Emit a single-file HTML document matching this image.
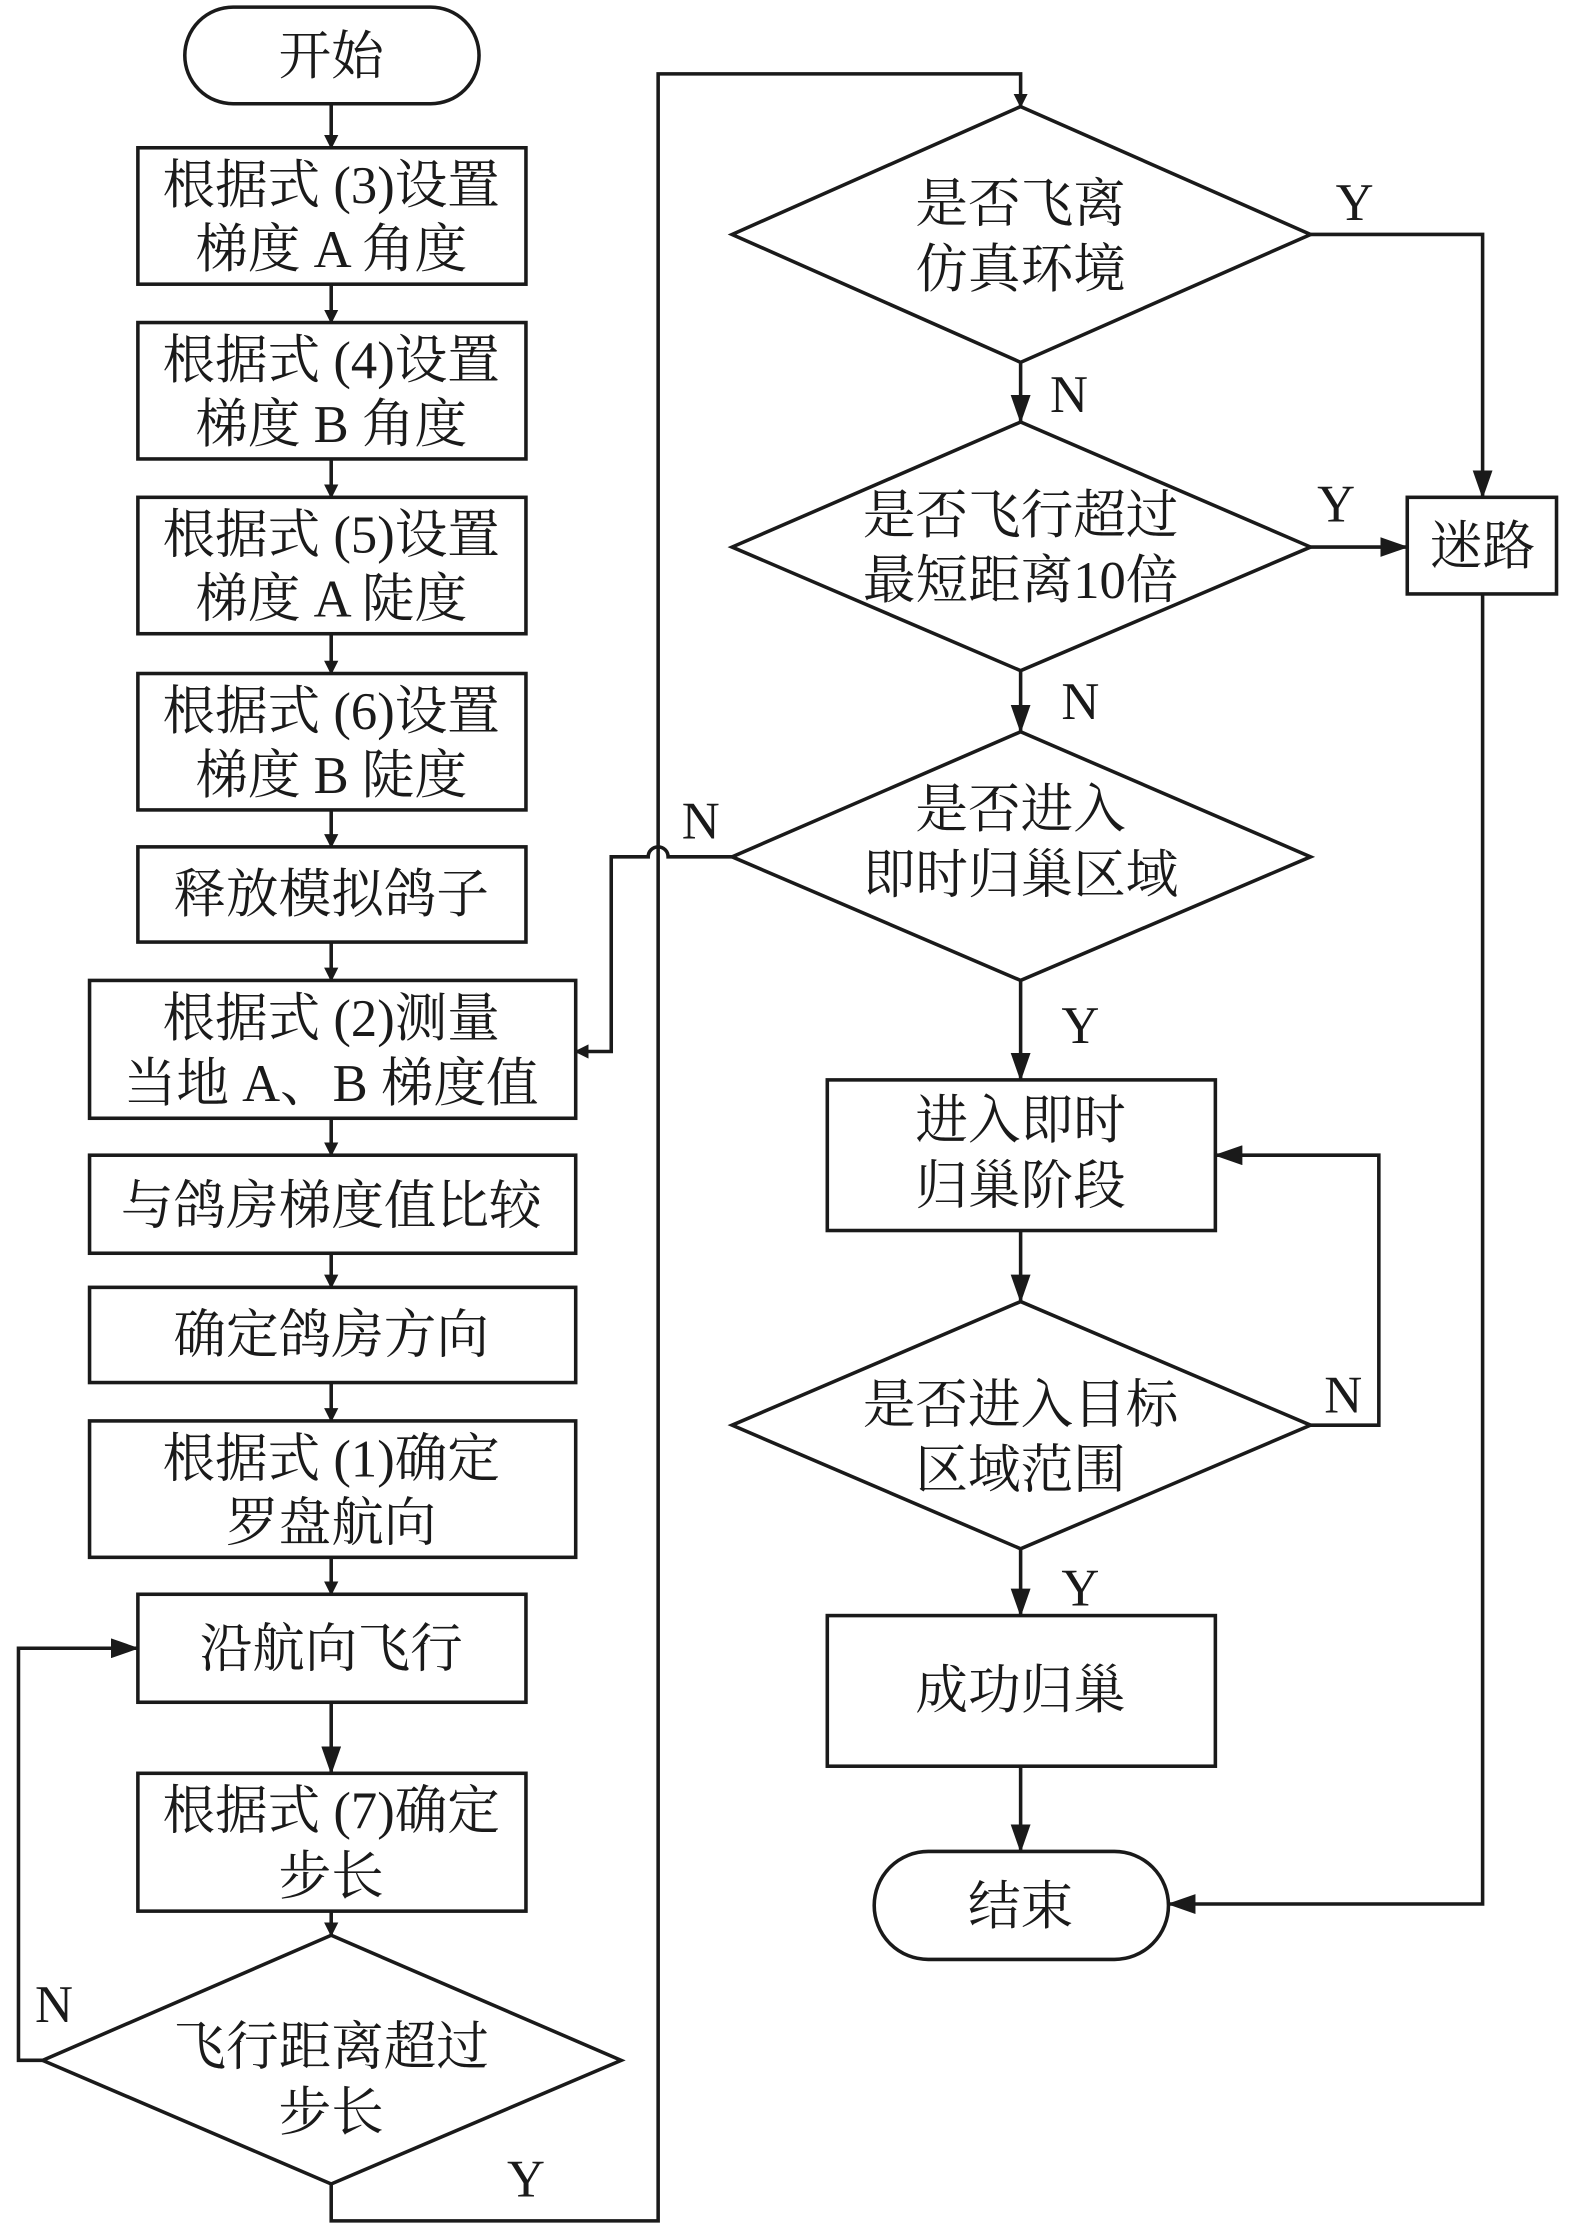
<!DOCTYPE html>
<html><head><meta charset="utf-8"><style>
html,body{margin:0;padding:0;background:#fff}
svg{display:block}
text{font-family:"Liberation Serif","Noto Serif CJK SC",serif;font-size:37px;fill:#1a1a1a;text-anchor:middle}
</style></head><body>
<svg width="1575" height="2228" viewBox="0 0 1108 1568" preserveAspectRatio="none" xmlns="http://www.w3.org/2000/svg">
<defs><marker id="a" markerWidth="10" markerHeight="10" refX="9" refY="5" orient="auto" markerUnits="userSpaceOnUse"><path d="M0,0 L10,5 L0,10 z" fill="#1a1a1a"/></marker>
<marker id="b" markerWidth="20" markerHeight="14" refX="19" refY="7" orient="auto" markerUnits="userSpaceOnUse"><path d="M0,0 L20,7 L0,14 z" fill="#1a1a1a"/></marker></defs>
<g fill="none" stroke="#1a1a1a" stroke-width="2.5">
<rect x="130" y="5" width="207" height="68" rx="34"/>
<rect x="97" y="104" width="273" height="96"/>
<rect x="97" y="227" width="273" height="96"/>
<rect x="97" y="350" width="273" height="96"/>
<rect x="97" y="474" width="273" height="96"/>
<rect x="97" y="596" width="273" height="67"/>
<rect x="63" y="690" width="342" height="97"/>
<rect x="63" y="813" width="342" height="69"/>
<rect x="63" y="906" width="342" height="67"/>
<rect x="63" y="1000" width="342" height="96"/>
<rect x="97" y="1122" width="273" height="76"/>
<rect x="97" y="1248" width="273" height="97"/>
<polygon points="233,1362 437,1450 233,1537 30,1450"/>
<polygon points="718,75 922,165 718,255 515,165"/>
<polygon points="718,297 922,385 718,472 515,385"/>
<polygon points="718,515 922,603 718,690 515,603"/>
<polygon points="718,916 922,1003 718,1090 515,1003"/>
<rect x="990" y="350" width="105" height="68"/>
<rect x="582" y="760" width="273" height="106"/>
<rect x="582" y="1137" width="273" height="106"/>
<rect x="615" y="1303" width="207" height="76" rx="38"/>
<line x1="233" y1="73" x2="233" y2="104" marker-end="url(#a)"/>
<line x1="233" y1="200" x2="233" y2="227" marker-end="url(#a)"/>
<line x1="233" y1="323" x2="233" y2="350" marker-end="url(#a)"/>
<line x1="233" y1="446" x2="233" y2="474" marker-end="url(#a)"/>
<line x1="233" y1="570" x2="233" y2="596" marker-end="url(#a)"/>
<line x1="233" y1="663" x2="233" y2="690" marker-end="url(#a)"/>
<line x1="233" y1="787" x2="233" y2="813" marker-end="url(#a)"/>
<line x1="233" y1="882" x2="233" y2="906" marker-end="url(#a)"/>
<line x1="233" y1="973" x2="233" y2="1000" marker-end="url(#a)"/>
<line x1="233" y1="1096" x2="233" y2="1122" marker-end="url(#a)"/>
<line x1="233" y1="1198" x2="233" y2="1248" marker-end="url(#b)"/>
<line x1="233" y1="1345" x2="233" y2="1362" marker-end="url(#a)"/>
<polyline points="30,1450 13,1450 13,1160 97,1160" marker-end="url(#b)"/>
<polyline points="233,1537 233,1563 463,1563 463,52 718,52 718,75" marker-end="url(#a)"/>
<polyline points="922,165 1043,165 1043,350" marker-end="url(#b)"/>
<line x1="718" y1="255" x2="718" y2="297" marker-end="url(#b)"/>
<line x1="922" y1="385" x2="990" y2="385" marker-end="url(#b)"/>
<line x1="718" y1="472" x2="718" y2="515" marker-end="url(#b)"/>
<path d="M515,603 L470,603 A7,7 0 0 0 456,603 L430,603 L430,740 L405,740" marker-end="url(#a)"/>
<line x1="718" y1="690" x2="718" y2="760" marker-end="url(#b)"/>
<line x1="718" y1="866" x2="718" y2="916" marker-end="url(#b)"/>
<polyline points="922,1003 970,1003 970,813 855,813" marker-end="url(#b)"/>
<line x1="718" y1="1090" x2="718" y2="1137" marker-end="url(#b)"/>
<line x1="718" y1="1243" x2="718" y2="1303" marker-end="url(#b)"/>
<polyline points="1043,418 1043,1340 822,1340" marker-end="url(#b)"/>
</g>
<text x="233" y="52">开始</text>
<text x="233" y="143">根据式 (3)设置</text><text x="233" y="188">梯度 A 角度</text>
<text x="233" y="266">根据式 (4)设置</text><text x="233" y="311">梯度 B 角度</text>
<text x="233" y="389">根据式 (5)设置</text><text x="233" y="434">梯度 A 陡度</text>
<text x="233" y="513">根据式 (6)设置</text><text x="233" y="558">梯度 B 陡度</text>
<text x="233" y="642">释放模拟鸽子</text>
<text x="233" y="729">根据式 (2)测量</text><text x="233" y="775">当地 A、B 梯度值</text>
<text x="233" y="861">与鸽房梯度值比较</text>
<text x="233" y="952">确定鸽房方向</text>
<text x="233" y="1039">根据式 (1)确定</text><text x="233" y="1084">罗盘航向</text>
<text x="233" y="1173">沿航向飞行</text>
<text x="233" y="1287">根据式 (7)确定</text><text x="233" y="1333">步长</text>
<text x="233" y="1453">飞行距离超过</text><text x="233" y="1499">步长</text>
<text x="38" y="1423">N</text><text x="370" y="1546">Y</text>
<text x="718" y="156">是否飞离</text><text x="718" y="202">仿真环境</text>
<text x="953" y="155">Y</text><text x="752" y="290">N</text>
<text x="718" y="375">是否飞行超过</text><text x="718" y="421">最短距离10倍</text>
<text x="940" y="367">Y</text><text x="760" y="506">N</text>
<text x="1043" y="397">迷路</text>
<text x="718" y="582">是否进入</text><text x="718" y="628">即时归巢区域</text>
<text x="493" y="590">N</text><text x="760" y="734">Y</text>
<text x="718" y="801">进入即时</text><text x="718" y="847">归巢阶段</text>
<text x="718" y="1001">是否进入目标</text><text x="718" y="1047">区域范围</text>
<text x="945" y="994">N</text><text x="760" y="1130">Y</text>
<text x="718" y="1202">成功归巢</text>
<text x="718" y="1354">结束</text>
</svg>
</body></html>
